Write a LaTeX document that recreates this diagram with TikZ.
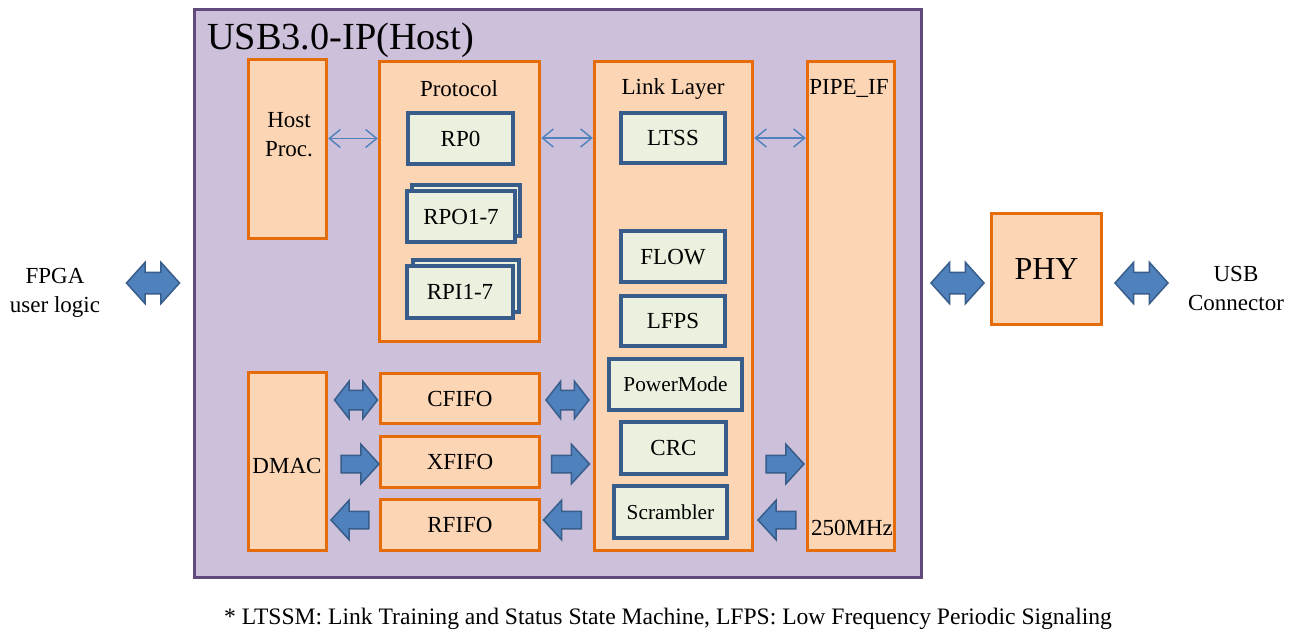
\documentclass[tikz,border=0pt]{standalone}
\usepackage{fontspec}
\setmainfont{Liberation Serif}
\usetikzlibrary{shapes.arrows,arrows.meta}
\definecolor{outerfill}{HTML}{CCC0DA}
\definecolor{outerline}{HTML}{604A7B}
\definecolor{ofill}{HTML}{FCD5B5}
\definecolor{oline}{HTML}{E46C0A}
\definecolor{gfill}{HTML}{EBF1DE}
\definecolor{bline}{HTML}{385D8A}
\definecolor{afill}{HTML}{4F81BD}
\begin{document}
\begin{tikzpicture}[x=1pt,y=-1pt,
  txt/.style={font=\fontsize{23}{29}\selectfont, text=black, inner sep=0pt, align=center},
  obox/.style={draw=oline, fill=ofill, line width=3.5pt, inner sep=0pt, text depth=0pt},
  gbox/.style={draw=bline, fill=gfill, line width=3.5pt, inner sep=0pt, text depth=0pt, font=\fontsize{23}{29}\selectfont},
  thinarr/.style={draw=afill, line width=1.4pt, {Straight Barb[length=11pt,width=18pt]}-{Straight Barb[length=11pt,width=18pt]}},
  sarr/.style={single arrow, draw=bline, fill=afill, line width=1.5pt, inner xsep=0pt, inner ysep=8pt,
     single arrow head extend=11pt, single arrow tip angle=95, minimum height=38pt},
  darr/.style={double arrow, draw=bline, fill=afill, line width=1.5pt, inner xsep=0pt, inner ysep=9pt,
     double arrow head extend=9pt, double arrow tip angle=104, minimum height=43pt},
  bigarr/.style={double arrow, draw=bline, fill=afill, line width=1.5pt, inner xsep=0pt, inner ysep=10pt,
     double arrow head extend=10pt, double arrow tip angle=96, minimum height=53pt}
]
\useasboundingbox (0,0) rectangle (1296,634);
\fill[white] (0,0) rectangle (1296,634);

% outer block
\node[draw=outerline, fill=outerfill, line width=3pt, inner sep=0pt, minimum width=727pt, minimum height=568pt] (outer) at (558,293.5) {};
\node[anchor=base west, inner sep=0pt, font=\fontsize{38.3}{40}\selectfont] (title) at (207,50) {USB3.0-IP(Host)};

% orange blocks
\node[obox, minimum width=78pt, minimum height=179pt] (hostp) at (287.5,149) {};
\node[txt] (hostpt) at (289,135) {Host\\Proc.};
\node[obox, minimum width=160pt, minimum height=280pt] (proto) at (459.5,201.5) {};
\node[txt] (protot) at (459,89) {Protocol};
\node[obox, minimum width=158pt, minimum height=489pt] (link) at (673.5,306) {};
\node[txt] (linkt) at (673,89) {Link Layer};
\node[obox, minimum width=87pt, minimum height=489pt] (pipe) at (851,306) {};
\node[txt] (pipet) at (849,88) {PIPE\_IF};
\node[txt] (mhz) at (852,528) {250MHz};
\node[obox, minimum width=78pt, minimum height=178pt] (dmac) at (287.5,461.5) {};
\node[txt] (dmact) at (287,466) {DMAC};
\node[obox, minimum width=159pt, minimum height=50pt, font=\fontsize{23}{29}\selectfont] (cfifo) at (460,398.5) {CFIFO};
\node[obox, minimum width=159pt, minimum height=51pt, font=\fontsize{23}{29}\selectfont] (xfifo) at (460,462) {XFIFO};
\node[obox, minimum width=159pt, minimum height=51pt, font=\fontsize{23}{29}\selectfont] (rfifo) at (460,525) {RFIFO};
\node[obox, minimum width=110pt, minimum height=111pt, font=\fontsize{32}{34}\selectfont] (phy) at (1046.5,269) {PHY};

% protocol sub-blocks
\node[gbox, minimum width=105pt, minimum height=51pt] (rp0) at (460.5,138.5) {RP0};
\node[gbox, minimum width=108pt, minimum height=51pt] (rpoback) at (466,210.5) {};
\node[gbox, minimum width=108pt, minimum height=51pt] (rpo) at (461,216.5) {RPO1-7};
\node[gbox, minimum width=106pt, minimum height=52pt] (rpiback) at (466,286) {};
\node[gbox, minimum width=106pt, minimum height=52pt] (rpi) at (460,292) {RPI1-7};

% link layer sub-blocks
\node[gbox, minimum width=104pt, minimum height=50pt] (ltss) at (673,138) {LTSS};
\node[gbox, minimum width=104pt, minimum height=51pt] (flow) at (673,256.5) {FLOW};
\node[gbox, minimum width=104pt, minimum height=50pt] (lfps) at (673,321) {LFPS};
\node[gbox, minimum width=133pt, minimum height=51pt, font=\fontsize{21.3}{26}\selectfont] (pm) at (675.5,384.5) {PowerMode};
\node[gbox, minimum width=105pt, minimum height=52pt] (crc) at (673.5,448) {CRC};
\node[gbox, minimum width=113pt, minimum height=52pt, font=\fontsize{21.3}{26}\selectfont] (scr) at (670.5,512) {Scrambler};

% thin double arrows
\draw[thinarr] (hostp.east |- rp0.west) -- (proto.west |- rp0.west);
\draw[thinarr] (proto.east |- ltss.west) -- (link.west |- ltss.west);
\draw[thinarr] (link.east |- ltss.east) -- (pipe.west |- ltss.east);

% block arrows
\node[darr] (adc) at (356,400) {};
\node[sarr] (adx) at (356,464) {};
\node[sarr, shape border rotate=180] (ard) at (354,520) {};
\node[darr] (acl) at (567.5,400) {};
\node[sarr] (axl) at (566.5,464) {};
\node[sarr, shape border rotate=180] (alr) at (566.5,520) {};
\node[sarr] (alp) at (781,464) {};
\node[sarr, shape border rotate=180] (apl) at (781,520) {};
\node[bigarr] (afpga) at (153,283) {};
\node[bigarr] (aphy) at (957.5,283) {};
\node[bigarr] (ausb) at (1141.5,283) {};

% outside texts
\node[txt] (fpga) at (55,293) {FPGA\\user logic};
\node[txt] (usb) at (1236,288) {USB\\Connector};
\node[font=\fontsize{23.6}{26}\selectfont, inner sep=0pt] (note) at (668,619) {* LTSSM: Link Training and Status State Machine, LFPS: Low Frequency Periodic Signaling};
\end{tikzpicture}
\end{document}
